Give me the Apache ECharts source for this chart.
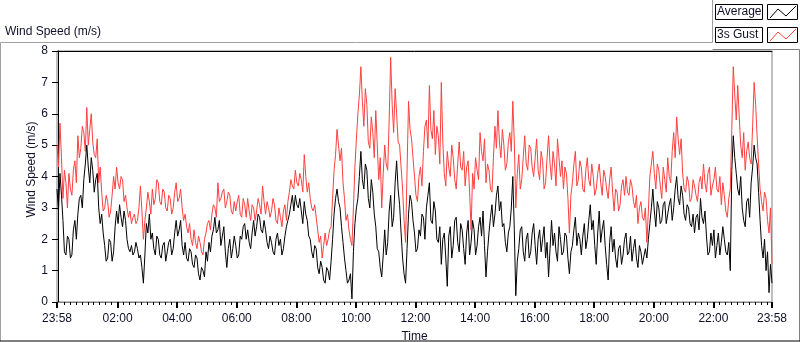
<!DOCTYPE html>
<html>
<head>
<meta charset="utf-8">
<script src="https://cdn.jsdelivr.net/npm/echarts@6/dist/echarts.min.js"></script>
<style>
  html, body { margin: 0; padding: 0; background: #fff; }
  #chart { width: 800px; height: 342px; }
</style>
</head>
<body>
<div id="chart"></div>
<script>
// readings every 3 minutes from 23:58 the day before: the "on" arrays hold
// the samples at 23:58, 00:04, 00:10 ..., the "mid" arrays the ones in between
var startMinute = -2
var stepMinutes = 6
var endMinute = 1438

var seriesNames = ['Average', '3s Gust']
var seriesColors = ['#000000', '#ff4040']

// minutes from midnight, labels shown on the time axis
var majorTicks = [-2, 120, 240, 360, 480, 600, 720, 840, 960, 1080, 1200, 1320, 1438]
var yTicks = [0, 1, 2, 3, 4, 5, 6, 7, 8]

// wind speed, m/s
var average = [
  3.6, 4.1, 2.6, 1.5, 2.0, 1.5, 2.6, 2.8, 3.4, 3.9, 5.0, 3.8, 4.2, 3.9, 3.0, 2.8, 1.8, 1.4, 1.9, 1.6,
  2.9, 3.1, 2.4, 2.6, 1.7, 1.8, 1.6, 1.7, 1.5, 0.6, 2.5, 2.8, 2.2, 1.5, 2.0, 1.4, 1.9, 1.6, 2.0, 1.7,
  2.6, 2.3, 1.8, 1.9, 1.3, 1.6, 1.1, 1.4, 0.7, 1.0, 1.6, 1.9, 2.1, 2.7, 2.3, 1.8, 2.4, 1.1, 2.0, 1.7,
  1.8, 1.5, 2.0, 2.5, 2.3, 1.7, 2.6, 2.4, 2.7, 2.2, 2.3, 1.7, 1.9, 1.5, 2.2, 2.0, 1.7, 2.4, 2.8, 3.4,
  3.4, 3.0, 2.9, 3.2, 2.6, 2.0, 1.4, 1.7, 0.9, 1.1, 0.6, 1.0, 1.3, 2.8, 3.6, 3.0, 1.9, 1.0, 0.7, 0.1,
  2.5, 3.3, 4.8, 3.6, 4.2, 3.0, 3.5, 2.4, 1.6, 0.8, 2.3, 1.9, 3.4, 2.7, 4.5, 3.1, 1.4, 0.6, 2.8, 3.2,
  2.2, 1.7, 2.1, 2.7, 3.0, 3.8, 2.5, 2.9, 1.9, 1.2, 2.2, 0.5, 2.4, 1.8, 2.7, 1.6, 2.3, 1.2, 2.6, 1.9,
  2.3, 1.8, 2.7, 2.9, 0.8, 2.2, 3.1, 2.8, 3.7, 3.2, 2.5, 1.6, 2.4, 4.0, 0.2, 1.7, 2.4, 1.3, 2.2, 1.6,
  2.5, 1.2, 2.3, 2.0, 1.4, 0.8, 2.6, 2.2, 1.3, 2.0, 1.6, 2.1, 0.9, 1.8, 2.7, 2.2, 1.5, 2.5, 2.0, 3.1,
  2.6, 1.2, 2.9, 2.3, 1.8, 0.7, 2.4, 2.0, 1.1, 1.8, 1.5, 2.2, 1.6, 1.3, 2.0, 1.1, 1.6, 1.2, 1.4, 2.5,
  3.6, 2.4, 3.0, 2.6, 3.2, 2.8, 3.3, 3.0, 4.0, 3.1, 3.4, 2.6, 3.0, 2.4, 2.2, 2.8, 3.3, 2.5, 2.1, 1.6,
  1.8, 1.4, 2.2, 1.9, 2.0, 1.5, 1.0, 5.3, 4.1, 3.4, 3.0, 2.4, 3.3, 3.8, 5.0, 4.4, 2.6, 1.4, 1.0, 0.3, 0.6
]
var averageMid = [
  2.9, 3.4, 1.6, 2.1, 1.4, 2.3, 2.0, 3.3, 3.0, 4.4, 4.3, 4.6, 3.5, 4.1, 2.5, 2.2, 1.3, 2.0, 1.3, 2.4,
  2.5, 2.7, 2.9, 2.0, 1.6, 1.5, 1.9, 1.4, 1.1, 1.5, 2.2, 2.0, 1.7, 2.1, 1.5, 1.8, 1.3, 1.9, 1.5, 2.2,
  2.1, 2.6, 1.5, 1.4, 1.7, 1.2, 1.5, 0.9, 1.1, 0.8, 1.3, 1.6, 2.3, 2.2, 2.6, 2.1, 1.6, 1.7, 1.4, 2.1,
  1.4, 2.1, 2.4, 2.0, 1.9, 2.2, 2.1, 2.8, 2.3, 2.6, 1.9, 2.1, 1.6, 2.0, 1.8, 1.5, 2.1, 2.6, 3.1, 2.9,
  3.1, 3.3, 2.5, 2.8, 2.1, 1.6, 1.8, 1.1, 1.3, 0.7, 1.1, 0.7, 2.0, 3.3, 3.2, 2.4, 1.4, 0.6, 0.9, 1.6,
  3.0, 4.0, 3.9, 4.4, 3.3, 3.9, 2.8, 1.7, 1.1, 1.5, 1.5, 2.9, 2.4, 3.8, 3.6, 2.2, 0.9, 1.7, 3.4, 2.6,
  1.6, 2.3, 2.8, 2.0, 3.4, 2.6, 3.2, 2.0, 2.4, 2.0, 1.4, 2.1, 1.4, 2.6, 1.9, 2.5, 1.7, 2.2, 1.5, 2.6,
  1.5, 2.4, 2.1, 1.8, 1.6, 2.7, 2.4, 3.4, 2.9, 2.4, 1.9, 2.2, 3.0, 2.3, 1.3, 2.3, 1.6, 2.0, 1.4, 2.2,
  1.8, 2.0, 1.6, 2.4, 1.9, 1.7, 1.8, 1.6, 2.4, 1.5, 2.2, 1.4, 1.6, 2.3, 1.8, 2.0, 2.1, 1.7, 2.6, 2.3,
  1.8, 2.2, 1.9, 2.6, 1.2, 1.9, 1.6, 1.4, 1.7, 1.2, 2.0, 1.5, 2.1, 1.7, 1.4, 1.8, 1.2, 1.7, 2.0, 3.0,
  2.9, 3.2, 2.5, 3.1, 2.5, 3.1, 2.6, 3.6, 3.3, 3.7, 2.8, 3.1, 2.5, 2.8, 2.7, 2.3, 2.7, 2.9, 1.5, 2.2,
  2.3, 1.8, 1.5, 2.4, 1.6, 1.9, 4.2, 4.6, 3.6, 4.0, 2.6, 3.2, 2.7, 4.3, 4.6, 3.5, 1.8, 2.0, 1.6, 1.2
]
var gust = [
  5.0, 5.7, 3.3, 3.8, 4.1, 3.4, 4.5, 5.3, 4.9, 5.4, 6.2, 5.5, 5.1, 4.6, 3.8, 3.5, 3.0, 3.2, 2.9, 4.0,
  4.3, 3.6, 3.9, 3.4, 2.7, 2.5, 2.8, 2.6, 3.7, 2.0, 3.0, 3.2, 3.6, 3.3, 3.8, 3.1, 3.5, 2.9, 3.3, 3.0,
  3.8, 3.3, 3.0, 2.8, 2.2, 2.0, 2.3, 1.7, 1.9, 1.5, 2.2, 2.6, 2.8, 3.0, 3.8, 3.3, 3.6, 3.2, 3.4, 2.8,
  2.9, 3.4, 2.7, 3.1, 3.3, 2.6, 3.0, 2.9, 3.1, 3.7, 2.8, 3.0, 2.9, 3.1, 2.5, 2.7, 2.9, 2.6, 3.5, 3.7,
  4.2, 3.7, 3.9, 4.7, 3.5, 3.3, 2.9, 2.7, 1.9, 1.4, 2.2, 2.0, 2.4, 4.2, 5.5, 4.5, 3.8, 2.6, 2.3, 1.8,
  4.3, 6.0, 7.5, 5.6, 6.3, 4.9, 5.4, 6.1, 3.9, 3.0, 5.0, 4.2, 7.8, 5.4, 6.0, 5.0, 3.6, 1.9, 6.4, 5.2,
  4.0, 3.2, 4.3, 4.8, 5.8, 6.9, 5.2, 4.7, 5.3, 7.0, 4.1, 4.8, 4.0, 4.6, 3.6, 5.1, 4.2, 3.7, 4.5, 2.3,
  3.6, 4.2, 5.4, 4.5, 3.8, 4.2, 3.5, 5.6, 6.1, 4.6, 5.0, 4.4, 5.4, 6.4, 3.0, 4.7, 3.9, 5.3, 4.2, 4.9,
  4.0, 5.2, 3.9, 4.5, 3.8, 5.3, 3.9, 4.4, 5.2, 4.0, 3.6, 4.1, 2.2, 3.8, 4.8, 3.9, 4.3, 3.5, 4.6, 3.7,
  4.0, 3.6, 4.4, 3.4, 4.0, 3.3, 4.3, 2.9, 3.5, 3.1, 3.9, 4.0, 3.4, 3.7, 3.0, 2.5, 3.2, 2.6, 1.9, 4.0,
  4.8, 3.6, 4.2, 3.3, 3.9, 4.6, 3.8, 5.4, 5.9, 4.7, 4.1, 3.5, 3.8, 3.3, 3.7, 3.2, 4.0, 4.4, 3.5, 4.3,
  3.7, 4.3, 3.5, 3.1, 3.4, 2.7, 3.6, 7.5, 5.8, 5.9, 4.6, 4.2, 5.1, 4.4, 7.0, 5.3, 3.6, 2.9, 3.3, 2.2, 1.2
]
var gustMid = [
  4.3, 4.6, 4.2, 3.0, 3.6, 4.2, 3.8, 4.6, 5.6, 4.8, 5.0, 6.0, 4.7, 5.2, 4.3, 2.9, 3.4, 2.7, 3.4, 3.6,
  3.8, 4.0, 3.2, 3.0, 2.9, 2.7, 2.5, 3.0, 2.9, 2.6, 3.5, 2.8, 3.1, 3.9, 3.2, 3.6, 3.0, 3.4, 2.8, 3.5,
  3.2, 3.6, 2.6, 2.4, 2.5, 1.8, 1.9, 2.1, 1.6, 2.0, 2.5, 2.3, 3.1, 2.7, 3.2, 3.5, 3.0, 3.5, 2.9, 3.2,
  3.2, 2.8, 3.3, 2.7, 2.9, 3.1, 2.6, 3.3, 2.8, 3.2, 3.2, 2.7, 3.3, 2.6, 3.0, 2.4, 3.1, 3.2, 3.9, 3.6,
  3.8, 4.1, 3.5, 4.0, 3.8, 3.0, 3.1, 2.3, 2.1, 1.8, 1.8, 2.3, 3.3, 4.7, 5.0, 4.9, 3.3, 2.8, 2.0, 3.0,
  5.2, 6.6, 6.4, 6.8, 5.1, 5.9, 4.6, 5.0, 4.6, 4.1, 4.4, 5.8, 6.3, 6.8, 5.1, 4.3, 2.6, 4.2, 5.5, 4.6,
  3.4, 4.0, 3.7, 5.6, 4.9, 5.5, 6.1, 5.6, 4.4, 5.1, 3.7, 4.3, 5.0, 3.9, 4.4, 4.3, 4.8, 4.3, 3.5, 4.1,
  4.6, 3.9, 4.8, 5.2, 4.4, 3.6, 4.6, 4.9, 5.1, 5.5, 4.2, 5.1, 4.8, 5.1, 4.1, 3.6, 4.6, 4.4, 5.0, 4.3,
  4.6, 4.2, 4.8, 3.6, 4.6, 4.4, 4.8, 3.7, 4.6, 4.5, 4.3, 3.3, 3.4, 4.4, 3.7, 4.5, 3.6, 4.2, 3.9, 4.4,
  3.4, 4.1, 3.8, 4.2, 3.6, 3.9, 3.5, 3.6, 2.9, 3.7, 3.4, 3.5, 3.9, 3.2, 3.4, 3.0, 2.7, 3.0, 2.9, 4.4,
  4.1, 4.4, 3.7, 4.3, 3.5, 4.0, 4.8, 4.6, 5.2, 5.2, 3.6, 4.0, 3.2, 3.9, 3.4, 3.8, 3.6, 3.8, 4.1, 3.4,
  3.9, 3.6, 4.0, 3.8, 2.9, 3.3, 5.5, 6.6, 6.9, 5.0, 5.4, 4.8, 4.6, 5.6, 6.3, 4.4, 3.2, 3.5, 2.6, 3.0
]

var FONT = 'Liberation Sans'
var TEXT = '#10102a'

// interleave the samples on the 6 minute grid with the ones half a step later
function pairs(values, mids) {
  var out = []
  values.forEach(function (v, i) {
    var t = startMinute + i * stepMinutes
    out.push([t, v])
    if (i < mids.length) out.push([t + stepMinutes / 2, mids[i]])
  })
  return out
}

function clock(v) {
  var m = ((Math.round(v) % 1440) + 1440) % 1440
  var h = Math.floor(m / 60), mm = m % 60
  return (h < 10 ? '0' : '') + h + ':' + (mm < 10 ? '0' : '') + mm
}

// minor ticks every 12 minutes, skipping the labelled ones
var minorTicks = []
for (var t = 12; t < endMinute; t += 12) {
  if (majorTicks.indexOf(t) < 0) minorTicks.push(t)
}

var myChart = echarts.init(document.getElementById('chart'), null, { renderer: 'canvas' })

// legend drawn as LabVIEW style boxes: name box + plot sample box
var legendGraphics = []
seriesNames.forEach(function (name, i) {
  var top = 4 + i * 23
  legendGraphics.push({
    type: 'rect', shape: { x: 715.5, y: top + 0.5, width: 47, height: 15 },
    style: { fill: '#fff', stroke: '#000', lineWidth: 1 }
  })
  legendGraphics.push({
    type: 'text', x: 717, y: top + 8,
    style: { text: name, fill: TEXT, font: '12px "' + FONT + '"', verticalAlign: 'middle' }
  })
  legendGraphics.push({
    type: 'rect', shape: { x: 767.5, y: top + 0.5, width: 30, height: 15 },
    style: { fill: '#fff', stroke: '#000', lineWidth: 1 }
  })
  legendGraphics.push({
    type: 'polyline',
    shape: { points: [[770, top + 14], [778, top + 5], [786, top + 12], [796, top + 2]] },
    style: { stroke: seriesColors[i], lineWidth: 1, fill: null }
  })
})

var option = {
  animation: false,
  backgroundColor: '#fff',
  title: {
    text: 'Wind Speed (m/s)', left: 5, top: 26, padding: 0,
    textStyle: { fontFamily: FONT, fontSize: 12, fontWeight: 'normal', color: TEXT }
  },
  grid: {
    left: 57, right: 28, top: 51, bottom: 40, outerBoundsMode: 'none',
    show: true, borderColor: '#808080', borderWidth: 1
  },
  xAxis: [
    {
      type: 'value', min: startMinute, max: endMinute,
      name: 'Time', nameLocation: 'middle', nameGap: 29, nameMoveOverlap: false,
      nameTextStyle: { fontFamily: FONT, fontSize: 12, color: TEXT },
      axisLine: { lineStyle: { color: '#808080' } },
      axisTick: { customValues: majorTicks, length: 6, lineStyle: { color: '#000', width: 2 } },
      axisLabel: {
        customValues: majorTicks, formatter: clock, margin: 11,
        fontFamily: FONT, fontSize: 12, color: TEXT, hideOverlap: false
      },
      splitLine: { show: false }
    },
    {
      type: 'value', min: startMinute, max: endMinute, position: 'bottom',
      axisLine: { show: false },
      axisTick: { customValues: minorTicks, length: 3, lineStyle: { color: '#000' } },
      axisLabel: { show: false },
      splitLine: { show: false }
    },
    {
      type: 'value', min: startMinute, max: endMinute, position: 'top',
      axisLine: { lineStyle: { color: '#000' } },
      axisTick: { show: false }, axisLabel: { show: false }, splitLine: { show: false }
    }
  ],
  yAxis: {
    type: 'value', min: 0, max: 8, interval: 1,
    name: 'Wind Speed (m/s)', nameLocation: 'middle', nameGap: 19, nameMoveOverlap: false,
    nameTextStyle: { fontFamily: FONT, fontSize: 12, color: TEXT, padding: [0, 0, 0, 14] },
    axisLine: { show: true, lineStyle: { color: '#000' } },
    axisTick: { show: true, length: 6, lineStyle: { color: '#000' } },
    axisLabel: {
      customValues: yTicks, margin: 9,
      fontFamily: FONT, fontSize: 12, color: TEXT
    },
    splitLine: { show: false }
  },
  series: [
    {
      name: seriesNames[0], type: 'line', data: pairs(average, averageMid), showSymbol: false,
      lineStyle: { color: seriesColors[0], width: 1 }, itemStyle: { color: seriesColors[0] }, z: 2
    },
    {
      name: seriesNames[1], type: 'line', data: pairs(gust, gustMid), showSymbol: false,
      lineStyle: { color: seriesColors[1], width: 1 }, itemStyle: { color: seriesColors[1] }, z: 3
    }
  ],
  graphic: [
    {
      type: 'polyline', silent: true,
      shape: { points: [[0.5, 341], [0.5, 42.5], [712.5, 42.5], [712.5, 0]] },
      style: { stroke: '#a0a0a0', lineWidth: 1, fill: null }
    },
    {
      type: 'polyline', silent: true,
      shape: { points: [[712.5, 49.5], [799.5, 49.5], [799.5, 341]] },
      style: { stroke: '#808080', lineWidth: 1, fill: null }
    },
    {
      type: 'line', silent: true,
      shape: { x1: 0, y1: 341, x2: 800, y2: 341 },
      style: { stroke: '#000', lineWidth: 1 }
    }
  ].concat(legendGraphics)
}

myChart.setOption(option)
window.onresize = function () {
  myChart.resize()
}
</script>
</body>
</html>
